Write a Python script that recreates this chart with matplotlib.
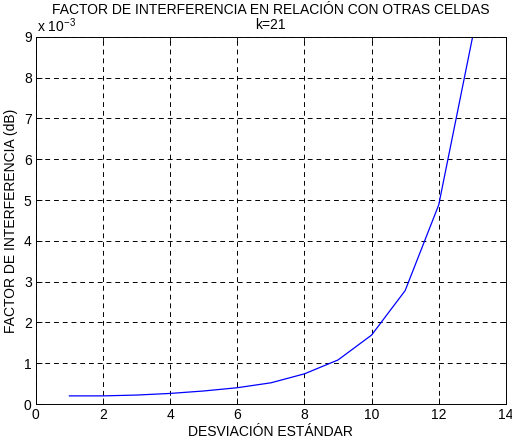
import numpy as np
import matplotlib.pyplot as plt
from matplotlib.ticker import FuncFormatter

plt.rcParams['font.family'] = ['Liberation Sans', 'DejaVu Sans']
plt.rcParams['mathtext.fontset'] = 'custom'
plt.rcParams['mathtext.rm'] = 'Liberation Sans'
plt.rcParams['mathtext.default'] = 'rm'

# desviacion estandar vs factor de interferencia
sigma = [1, 2, 3, 4, 5, 6, 7, 8, 9, 10, 11, 12, 13]
factor = [0.20e-3, 0.20e-3, 0.22e-3, 0.26e-3, 0.32e-3, 0.40e-3, 0.52e-3,
          0.74e-3, 1.08e-3, 1.69e-3, 2.78e-3, 4.88e-3, 8.96e-3]

fig = plt.figure(figsize=(5.12, 4.44), dpi=100)
ax = fig.add_axes([0.070, 0.090, 0.918, 0.827])

ax.plot(sigma, factor, color='#0000ff', lw=0.9)

ax.set_xlim(0, 14)
ax.set_ylim(0, 9e-3)
ax.set_xticks(np.arange(0, 15, 2))
ax.set_yticks(np.arange(0, 10) * 1e-3)
ax.yaxis.set_major_formatter(FuncFormatter(lambda v, _: f"{v * 1e3:.0f}"))
ax.tick_params(direction='in', top=True, right=True, labelsize=10, length=4, width=0.6,
               pad=3)
ax.grid(True, color='black', linestyle=(0, (5, 4)), lw=0.7)
for s in ax.spines.values():
    s.set_linewidth(0.7)

ax.set_xlabel('DESVIACIÓN ESTÁNDAR', fontsize=10, labelpad=2)
ax.set_ylabel('FACTOR DE INTERFERENCIA (dB)', fontsize=10, labelpad=4)
ax.set_title('k=21', fontsize=10, pad=6)
ax.annotate('FACTOR DE INTERFERENCIA EN RELACIÓN CON OTRAS CELDAS',
            xy=(0.5, 1), xycoords='axes fraction', xytext=(0, 14.5),
            textcoords='offset points', fontsize=10, ha='center', va='bottom')
ax.annotate(r'x 10$^{-3}$', xy=(0, 1), xycoords='axes fraction', xytext=(1, 1),
            textcoords='offset points', fontsize=10, ha='left', va='bottom')

fig.savefig('out.png', dpi=100)
